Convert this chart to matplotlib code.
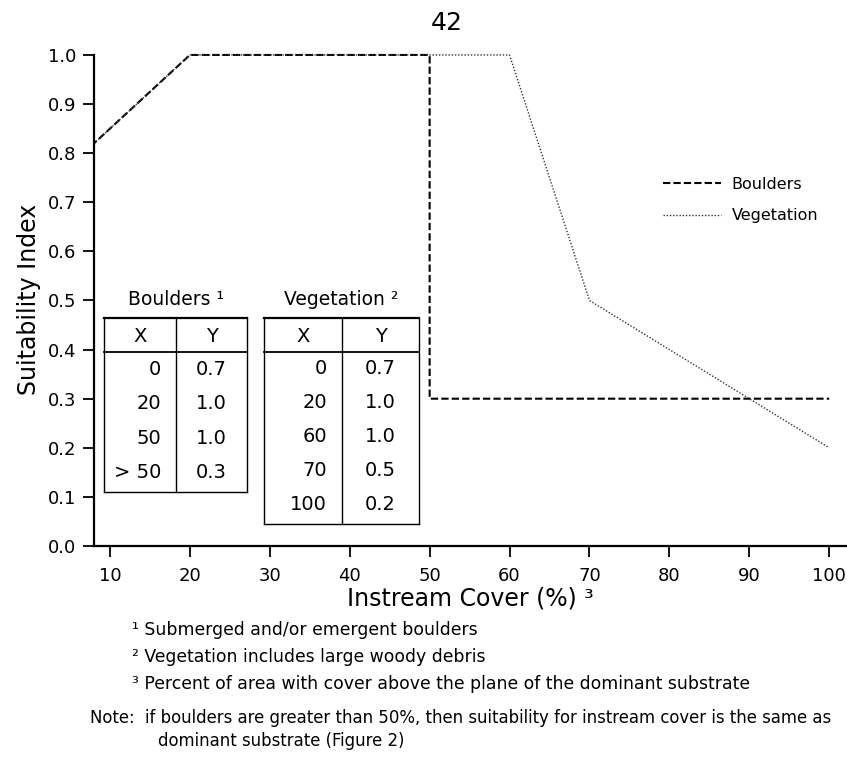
import matplotlib
matplotlib.use("Agg")
import matplotlib.pyplot as plt
from matplotlib.lines import Line2D

# suitability curves for instream cover
boulder_x = [0, 20, 50, 50, 100]
boulder_y = [0.7, 1.0, 1.0, 0.3, 0.3]
veg_x = [0, 20, 60, 70, 100]
veg_y = [0.7, 1.0, 1.0, 0.5, 0.2]

# table rows as printed
boulder_rows_x = ["0", "20", "50", "> 50"]
boulder_rows_y = ["0.7", "1.0", "1.0", "0.3"]
veg_rows_x = ["0", "20", "60", "70", "100"]
veg_rows_y = ["0.7", "1.0", "1.0", "0.5", "0.2"]

x_ticks = [10, 20, 30, 40, 50, 60, 70, 80, 90, 100]
y_ticks = [0.0, 0.1, 0.2, 0.3, 0.4, 0.5, 0.6, 0.7, 0.8, 0.9, 1.0]

footnotes = [
    "¹ Submerged and/or emergent boulders",
    "² Vegetation includes large woody debris",
    "³ Percent of area with cover above the plane of the dominant substrate",
]
note_1 = "Note:  if boulders are greater than 50%, then suitability for instream cover is the same as"
note_2 = "dominant substrate (Figure 2)"

W, H = 847, 761
plt.rcParams['font.family'] = ['DejaVu Sans']
fig = plt.figure(figsize=(W / 100, H / 100), dpi=100)


def fx(px):
    return px / W


def fy(py):
    return 1 - py / H


ax = fig.add_axes([fx(94), fy(546), fx(846) - fx(94), fy(53) - fy(546)])
ax.plot(boulder_x, boulder_y, color='black', linestyle=(0, (3.5, 1.5)), linewidth=1.5,
        label='Boulders')
ax.plot(veg_x, veg_y, color='#333333', linestyle=(0, (1, 1.3)), linewidth=1.0,
        label='Vegetation')
ax.set_xlim(8.0, 102.1)
ax.set_ylim(0.0, 1.004)

ax.spines['top'].set_visible(False)
ax.spines['right'].set_visible(False)
ax.spines['left'].set_bounds(0.0, 1.0)
ax.spines['left'].set_linewidth(1.6)
ax.spines['bottom'].set_linewidth(1.6)
ax.set_xticks(x_ticks)
ax.set_yticks(y_ticks)
ax.set_yticklabels([f"{v:.1f}" for v in y_ticks])
ax.tick_params(direction='out', length=8, width=1.3, labelsize=13)
ax.tick_params(axis='y', pad=5)
ax.tick_params(axis='x', pad=7)
ax.set_xlabel("Instream Cover (%) ³", fontsize=17, labelpad=1)
ax.set_ylabel("Suitability Index", fontsize=17, labelpad=5)

leg = ax.legend(loc='center left', bbox_to_anchor=(0.0, 0.0), frameon=False, fontsize=11.5,
                handlelength=3.6, handletextpad=0.7, labelspacing=1.05,
                borderpad=0, borderaxespad=0)
leg.set_bbox_to_anchor((fx(663), fy(200)), transform=fig.transFigure)

fig.text(fx(447), fy(23), "42", fontsize=18, ha='center', va='center')


def draw_table(left, mid, right, top, head, row_h, title, col_x, col_y):
    bottom = head + row_h * len(col_x) + 2
    kw = dict(color='black', transform=fig.transFigure)
    fig.add_artist(Line2D([fx(left), fx(right)], [fy(top), fy(top)], linewidth=1.6, **kw))
    fig.add_artist(Line2D([fx(left), fx(right)], [fy(head), fy(head)], linewidth=1.3, **kw))
    fig.add_artist(Line2D([fx(left), fx(right)], [fy(bottom), fy(bottom)], linewidth=1.0, **kw))
    for px in (left, mid, right):
        fig.add_artist(Line2D([fx(px), fx(px)], [fy(top), fy(bottom)], linewidth=1.0, **kw))
    fig.text(fx((left + right) / 2), fy(top - 18), title, fontsize=13.5,
             ha='center', va='center')
    fig.text(fx((left + mid) / 2), fy((top + head) / 2 + 1), "X", fontsize=14,
             ha='center', va='center')
    fig.text(fx((mid + right) / 2), fy((top + head) / 2 + 1), "Y", fontsize=14,
             ha='center', va='center')
    for i, (a, b) in enumerate(zip(col_x, col_y)):
        yy = head + row_h * (i + 0.5)
        fig.text(fx(mid - 15), fy(yy), a, fontsize=14, ha='right', va='center')
        fig.text(fx((mid + right) / 2), fy(yy), b, fontsize=14, ha='center', va='center')


draw_table(104, 176, 247, 318, 352, 34.5, "Boulders ¹", boulder_rows_x, boulder_rows_y)
draw_table(264, 342, 419, 318, 352, 34.0, "Vegetation ²", veg_rows_x, veg_rows_y)

foot_font = ['Liberation Sans Narrow', 'DejaVu Sans']
for i, t in enumerate(footnotes):
    fig.text(fx(132), fy(630 + 27 * i), t, fontsize=12.4, family=foot_font,
             ha='left', va='center')
fig.text(fx(90), fy(718), note_1, fontsize=11.9, family=foot_font, ha='left', va='center')
fig.text(fx(158), fy(741), note_2, fontsize=11.9, family=foot_font, ha='left', va='center')

fig.savefig("out.png", dpi=100)
